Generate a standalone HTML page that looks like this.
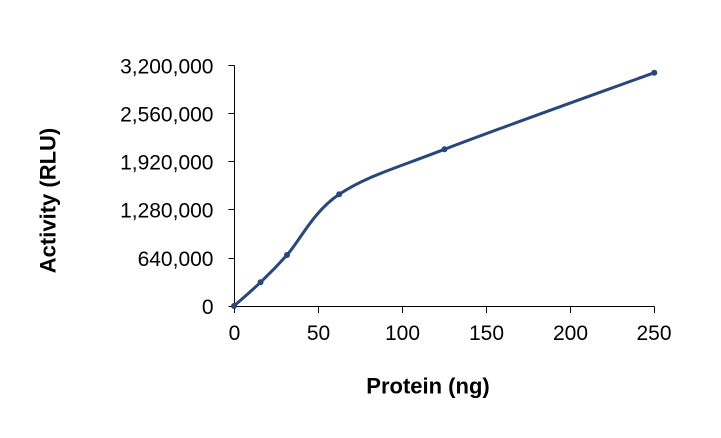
<!DOCTYPE html>
<html>
<head>
<meta charset="utf-8">
<style>
  html, body { margin: 0; padding: 0; background: #ffffff; }
  svg { display: block; }
  text { font-family: "Liberation Sans", Arial, sans-serif; fill: #000; }
</style>
</head>
<body>
<svg width="721" height="438" viewBox="0 0 721 438" xmlns="http://www.w3.org/2000/svg">
  <rect x="0" y="0" width="721" height="438" fill="#ffffff"/>

  <!-- axes -->
  <g stroke="#000" stroke-width="1" shape-rendering="crispEdges">
    <line x1="234.5" y1="65.5" x2="234.5" y2="306.5"/>
    <line x1="234.5" y1="306.5" x2="654.5" y2="306.5"/>
    <!-- y ticks -->
    <line x1="228.5" y1="65.5" x2="234.5" y2="65.5"/>
    <line x1="228.5" y1="113.5" x2="234.5" y2="113.5"/>
    <line x1="228.5" y1="161.5" x2="234.5" y2="161.5"/>
    <line x1="228.5" y1="209.5" x2="234.5" y2="209.5"/>
    <line x1="228.5" y1="258.5" x2="234.5" y2="258.5"/>
    <line x1="228.5" y1="306.5" x2="234.5" y2="306.5"/>
    <!-- x ticks -->
    <line x1="234.5" y1="306.5" x2="234.5" y2="313"/>
    <line x1="318.5" y1="306.5" x2="318.5" y2="313"/>
    <line x1="402.5" y1="306.5" x2="402.5" y2="313"/>
    <line x1="486.5" y1="306.5" x2="486.5" y2="313"/>
    <line x1="570.5" y1="306.5" x2="570.5" y2="313"/>
    <line x1="654.5" y1="306.5" x2="654.5" y2="313"/>
  </g>

  <!-- y tick labels -->
  <g font-size="21" text-anchor="end">
    <text x="213.5" y="73.3">3,200,000</text>
    <text x="213.5" y="121.4">2,560,000</text>
    <text x="213.5" y="169.5">1,920,000</text>
    <text x="213.5" y="217.6">1,280,000</text>
    <text x="213.5" y="265.8">640,000</text>
    <text x="213.5" y="313.9">0</text>
  </g>

  <!-- x tick labels -->
  <g font-size="21" text-anchor="middle">
    <text x="234.5" y="340">0</text>
    <text x="318.5" y="340">50</text>
    <text x="402.5" y="340">100</text>
    <text x="486.5" y="340">150</text>
    <text x="570.5" y="340">200</text>
    <text x="654" y="340">250</text>
  </g>

  <!-- axis titles -->
  <text x="428" y="393.5" font-size="22" font-weight="bold" text-anchor="middle">Protein (ng)</text>
  <text transform="translate(55.5,200.5) rotate(-90)" x="0" y="0" font-size="22" font-weight="bold" text-anchor="middle">Activity (RLU)</text>

  <!-- series -->
  <path d="M234,306
           C238.4,302.05 251.67,290.8 260.5,282.3
           C269.33,273.8 273.88,269.67 287,255
           C300.12,240.33 312.95,211.92 339.2,194.3
           C365.45,176.68 391.98,169.57 444.5,149.3
           C497.02,129.03 619.33,85.47 654.3,72.7"
        fill="none" stroke="#28477b" stroke-width="3" stroke-linejoin="round" stroke-linecap="round"/>
  <g fill="#28477b">
    <circle cx="234" cy="306" r="3"/>
    <circle cx="260.5" cy="282.3" r="3"/>
    <circle cx="287" cy="255" r="3"/>
    <circle cx="339.2" cy="194.3" r="3"/>
    <circle cx="444.5" cy="149.3" r="3"/>
    <circle cx="654.3" cy="72.7" r="3"/>
  </g>
</svg>
</body>
</html>
